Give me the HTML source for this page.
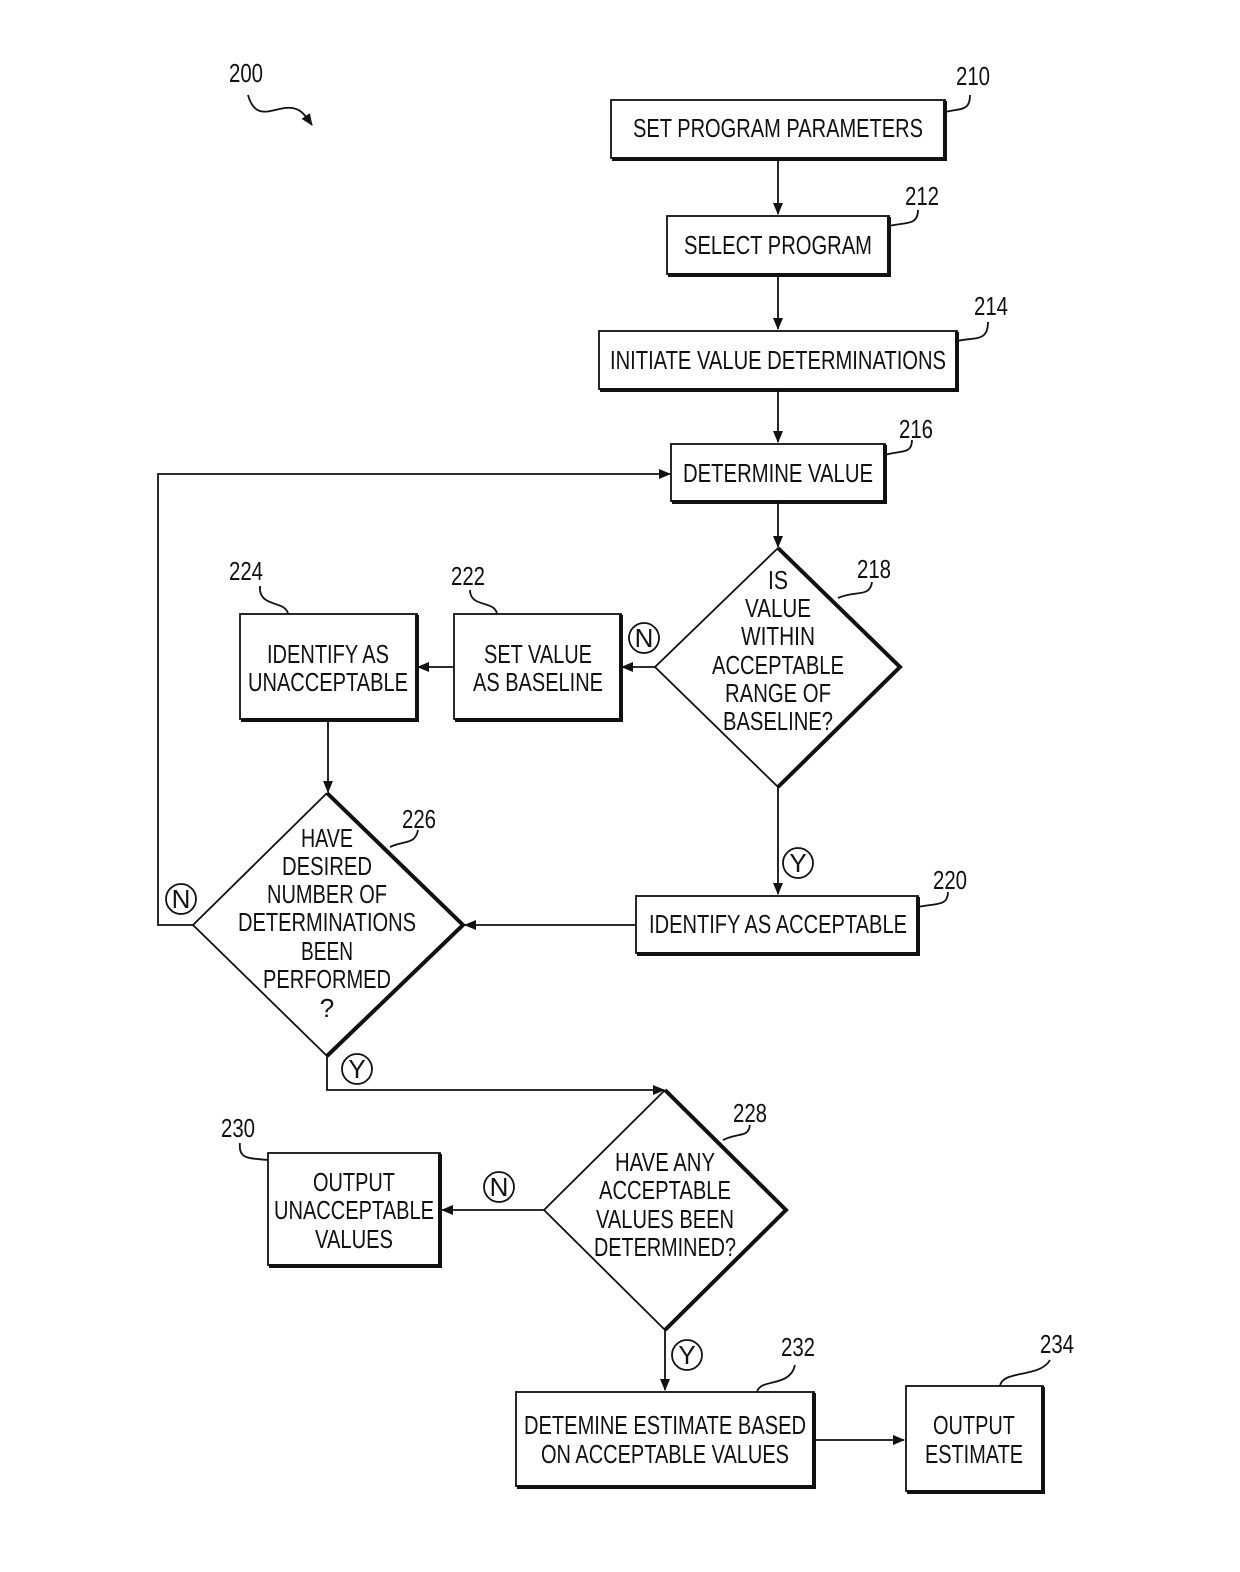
<!DOCTYPE html>
<html><head><meta charset="utf-8"><style>
html,body{margin:0;padding:0;background:#fff;width:1240px;height:1572px;overflow:hidden}
svg{display:block}
text{font-family:"Liberation Sans",sans-serif;font-size:26px;fill:#111}
</style></head><body>
<svg width="1240" height="1572" viewBox="0 0 1240 1572" xmlns="http://www.w3.org/2000/svg">
<defs><marker id="a" markerWidth="12" markerHeight="10" refX="11" refY="5" orient="auto" markerUnits="userSpaceOnUse"><path d="M0,0 L12,5 L0,10 Z" fill="#111"/></marker></defs>
<g fill="none" stroke="#111" stroke-width="1.8">
<rect x="611" y="100" width="334" height="58"/><path d="M945,101V159H612" stroke-width="4"/>
<rect x="667" y="216" width="222" height="58"/><path d="M889,217V275H668" stroke-width="4"/>
<rect x="599" y="331" width="358" height="58"/><path d="M957,332V390H600" stroke-width="4"/>
<rect x="671" y="444" width="214" height="57"/><path d="M885,445V502H672" stroke-width="4"/>
<rect x="454" y="614" width="167" height="105"/><path d="M621,615V720H455" stroke-width="4"/>
<rect x="240" y="614" width="177" height="105"/><path d="M417,615V720H241" stroke-width="4"/>
<rect x="636" y="896" width="282" height="57"/><path d="M918,897V954H637" stroke-width="4"/>
<rect x="268" y="1153" width="172" height="112"/><path d="M440,1154V1266H269" stroke-width="4"/>
<rect x="516" y="1392" width="298" height="94"/><path d="M814,1393V1487H517" stroke-width="4"/>
<rect x="906" y="1386" width="137" height="105"/><path d="M1043,1387V1492H907" stroke-width="4"/>
<path d="M778,548 L655,667 L778,787"/><path d="M778,548 L900,667 L778,787" stroke-width="4"/>
<path d="M327,793 L193,925 L327,1056"/><path d="M327,793 L463,925 L327,1056" stroke-width="4"/>
<path d="M665,1090 L544,1210 L665,1330"/><path d="M665,1090 L786,1210 L665,1330" stroke-width="4"/>
<path d="M778,158V214" marker-end="url(#a)"/>
<path d="M778,274V329" marker-end="url(#a)"/>
<path d="M778,389V442" marker-end="url(#a)"/>
<path d="M778,501V547" marker-end="url(#a)"/>
<path d="M655,667H622" marker-end="url(#a)"/>
<path d="M454,667H418" marker-end="url(#a)"/>
<path d="M328,719V792" marker-end="url(#a)"/>
<path d="M778,787V894" marker-end="url(#a)"/>
<path d="M636,925H465" marker-end="url(#a)"/>
<path d="M193,925H158V474H670" marker-end="url(#a)"/>
<path d="M327,1056V1090H664" marker-end="url(#a)"/>
<path d="M544,1210H442" marker-end="url(#a)"/>
<path d="M665,1330V1390" marker-end="url(#a)"/>
<path d="M814,1440H904" marker-end="url(#a)"/>
<circle cx="644" cy="638" r="15"/><circle cx="798" cy="863" r="15"/><circle cx="181" cy="899" r="15"/>
<circle cx="357" cy="1069" r="15"/><circle cx="499" cy="1187" r="15"/><circle cx="687" cy="1355" r="15"/>
<path d="M248,95 C255,120 270,110 285,108 C300,106 305,115 312,125" marker-end="url(#a)"/>
<path d="M945,112 C960,108 970,112 970,95"/>
<path d="M889,226 C905,222 918,226 918,210"/>
<path d="M957,341 C975,337 988,342 988,322"/>
<path d="M885,455 C900,450 912,455 912,440"/>
<path d="M838,598 C855,590 870,598 872,582"/>
<path d="M497,614 C495,600 470,608 470,590"/>
<path d="M288,614 C286,600 258,608 260,586"/>
<path d="M390,847 C405,840 415,845 418,830"/>
<path d="M918,907 C935,903 948,907 948,892"/>
<path d="M723,1140 C740,1132 748,1138 750,1125"/>
<path d="M268,1160 C250,1158 238,1160 240,1143"/>
<path d="M757,1392 C760,1378 790,1388 795,1365"/>
<path d="M1000,1386 C1002,1370 1040,1378 1050,1360"/>
</g>
<g text-anchor="middle">
<text x="778" y="137" textLength="290" lengthAdjust="spacingAndGlyphs">SET PROGRAM PARAMETERS</text>
<text x="778" y="254" textLength="188" lengthAdjust="spacingAndGlyphs">SELECT PROGRAM</text>
<text x="778" y="369" textLength="336" lengthAdjust="spacingAndGlyphs">INITIATE VALUE DETERMINATIONS</text>
<text x="778" y="482" textLength="190" lengthAdjust="spacingAndGlyphs">DETERMINE VALUE</text>
<text x="778" y="589" textLength="20" lengthAdjust="spacingAndGlyphs">IS</text>
<text x="778" y="617" textLength="66" lengthAdjust="spacingAndGlyphs">VALUE</text>
<text x="778" y="645" textLength="74" lengthAdjust="spacingAndGlyphs">WITHIN</text>
<text x="778" y="674" textLength="132" lengthAdjust="spacingAndGlyphs">ACCEPTABLE</text>
<text x="778" y="702" textLength="106" lengthAdjust="spacingAndGlyphs">RANGE OF</text>
<text x="778" y="730" textLength="110" lengthAdjust="spacingAndGlyphs">BASELINE?</text>
<text x="538" y="663" textLength="108" lengthAdjust="spacingAndGlyphs">SET VALUE</text>
<text x="538" y="691" textLength="130" lengthAdjust="spacingAndGlyphs">AS BASELINE</text>
<text x="328" y="663" textLength="122" lengthAdjust="spacingAndGlyphs">IDENTIFY AS</text>
<text x="328" y="691" textLength="160" lengthAdjust="spacingAndGlyphs">UNACCEPTABLE</text>
<text x="327" y="847" textLength="52" lengthAdjust="spacingAndGlyphs">HAVE</text>
<text x="327" y="875" textLength="90" lengthAdjust="spacingAndGlyphs">DESIRED</text>
<text x="327" y="903" textLength="120" lengthAdjust="spacingAndGlyphs">NUMBER OF</text>
<text x="327" y="931" textLength="178" lengthAdjust="spacingAndGlyphs">DETERMINATIONS</text>
<text x="327" y="960" textLength="52" lengthAdjust="spacingAndGlyphs">BEEN</text>
<text x="327" y="988" textLength="128" lengthAdjust="spacingAndGlyphs">PERFORMED</text>
<text x="327" y="1017">?</text>
<text x="778" y="933" textLength="258" lengthAdjust="spacingAndGlyphs">IDENTIFY AS ACCEPTABLE</text>
<text x="665" y="1171" textLength="100" lengthAdjust="spacingAndGlyphs">HAVE ANY</text>
<text x="665" y="1199" textLength="132" lengthAdjust="spacingAndGlyphs">ACCEPTABLE</text>
<text x="665" y="1228" textLength="138" lengthAdjust="spacingAndGlyphs">VALUES BEEN</text>
<text x="665" y="1256" textLength="142" lengthAdjust="spacingAndGlyphs">DETERMINED?</text>
<text x="354" y="1191" textLength="82" lengthAdjust="spacingAndGlyphs">OUTPUT</text>
<text x="354" y="1219" textLength="160" lengthAdjust="spacingAndGlyphs">UNACCEPTABLE</text>
<text x="354" y="1248" textLength="78" lengthAdjust="spacingAndGlyphs">VALUES</text>
<text x="665" y="1434" textLength="282" lengthAdjust="spacingAndGlyphs">DETEMINE ESTIMATE BASED</text>
<text x="665" y="1463" textLength="248" lengthAdjust="spacingAndGlyphs">ON ACCEPTABLE VALUES</text>
<text x="974" y="1434" textLength="82" lengthAdjust="spacingAndGlyphs">OUTPUT</text>
<text x="974" y="1463" textLength="98" lengthAdjust="spacingAndGlyphs">ESTIMATE</text>
<text x="644" y="647" font-size="22">N</text>
<text x="798" y="872" font-size="22">Y</text>
<text x="181" y="908" font-size="22">N</text>
<text x="357" y="1078" font-size="22">Y</text>
<text x="499" y="1196" font-size="22">N</text>
<text x="687" y="1364" font-size="22">Y</text>
<text x="246" y="82" textLength="34" lengthAdjust="spacingAndGlyphs">200</text>
<text x="973" y="85" textLength="34" lengthAdjust="spacingAndGlyphs">210</text>
<text x="922" y="205" textLength="34" lengthAdjust="spacingAndGlyphs">212</text>
<text x="991" y="315" textLength="34" lengthAdjust="spacingAndGlyphs">214</text>
<text x="916" y="438" textLength="34" lengthAdjust="spacingAndGlyphs">216</text>
<text x="874" y="578" textLength="34" lengthAdjust="spacingAndGlyphs">218</text>
<text x="468" y="585" textLength="34" lengthAdjust="spacingAndGlyphs">222</text>
<text x="246" y="580" textLength="34" lengthAdjust="spacingAndGlyphs">224</text>
<text x="419" y="828" textLength="34" lengthAdjust="spacingAndGlyphs">226</text>
<text x="950" y="889" textLength="34" lengthAdjust="spacingAndGlyphs">220</text>
<text x="750" y="1122" textLength="34" lengthAdjust="spacingAndGlyphs">228</text>
<text x="238" y="1137" textLength="34" lengthAdjust="spacingAndGlyphs">230</text>
<text x="798" y="1356" textLength="34" lengthAdjust="spacingAndGlyphs">232</text>
<text x="1057" y="1353" textLength="34" lengthAdjust="spacingAndGlyphs">234</text>
</g>
</svg>
</body></html>
